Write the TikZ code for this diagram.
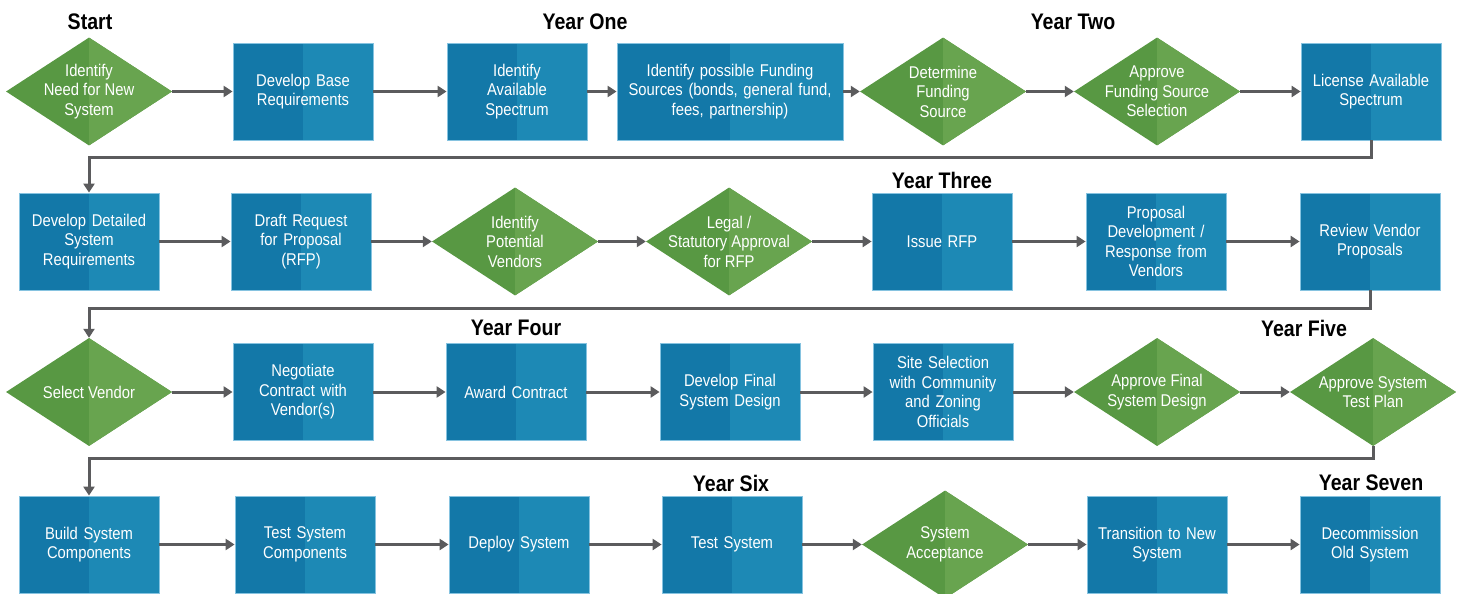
\documentclass[tikz,border=0pt]{standalone}
\usepackage{fontspec}
\setmainfont{Liberation Sans}[FakeStretch=0.87]
\usetikzlibrary{shapes.geometric,arrows.meta}
\definecolor{boxdark}{HTML}{1378A8}
\definecolor{boxlight}{HTML}{1D89B5}
\definecolor{boxedge}{HTML}{86C3E0}
\definecolor{greendark}{HTML}{589843}
\definecolor{greenlight}{HTML}{68A44F}
\definecolor{flowgray}{HTML}{5B5B5D}
\tikzset{
    stepbox/.style={rectangle,draw=boxedge,line width=0.8pt,fill=boxdark,text=white,
        minimum width=140pt,minimum height=97pt,text width=136pt,align=center,inner sep=0pt,
        font=\fontsize{17}{19.5}\selectfont,
        path picture={\fill[boxlight] (path picture bounding box.north) rectangle (path picture bounding box.south east);}},
    widebox/.style={stepbox,minimum width=226pt,text width=222pt},
    decide/.style={diamond,fill=greendark,minimum width=166pt,minimum height=108pt,inner sep=0pt,
        path picture={\fill[greenlight] (path picture bounding box.north) rectangle (path picture bounding box.south east);}},
    dtext/.style={text=white,align=center,font=\fontsize{17}{19.5}\selectfont},
    year/.style={font=\bfseries\fontsize{22.5}{24}\selectfont},
    flow/.style={draw=flowgray,line width=3pt,-{Triangle[length=9pt,width=11pt]}}
}
\begin{document}
\begin{tikzpicture}[x=1pt,y=-1pt]
        \fill[white] (0,0) rectangle (1460,594);
        \useasboundingbox (0,0) rectangle (1460,594);
        \node[year] (ys) at (90,22) {Start};
        \node[year] (y1) at (585,22) {Year One};
        \node[year] (y2) at (1073,22) {Year Two};
        \node[year] (y3) at (942,180) {Year Three};
        \node[year] (y4) at (516,328) {Year Four};
        \node[year] (y5) at (1304,328) {Year Five};
        \node[year] (y6) at (731,483) {Year Six};
        \node[year] (y7) at (1371,483) {Year Seven};
        \node[decide,label={[dtext]center:{Identify\\Need for New\\System}}] (a1) at (89,91.5) {};
        \node[stepbox] (a2) at (303,91.5) {Develop Base\\Requirements};
        \node[stepbox] (a3) at (517,91.5) {Identify\\Available\\Spectrum};
        \node[widebox] (a4) at (730,91.5) {Identify possible Funding\\Sources (bonds, general fund,\\fees, partnership)};
        \node[decide,label={[dtext]center:{Determine\\Funding\\Source}}] (a5) at (943,91.5) {};
        \node[decide,label={[dtext]center:{Approve\\Funding Source\\Selection}}] (a6) at (1157,91.5) {};
        \node[stepbox] (a7) at (1371,91.5) {License Available\\Spectrum};
        \node[stepbox] (b1) at (89,241.5) {Develop Detailed\\System\\Requirements};
        \node[stepbox] (b2) at (301,241.5) {Draft Request\\for Proposal\\(RFP)};
        \node[decide,label={[dtext]center:{Identify\\Potential\\Vendors}}] (b3) at (515,241.5) {};
        \node[decide,label={[dtext]center:{Legal /\\Statutory Approval\\for RFP}}] (b4) at (729,241.5) {};
        \node[stepbox] (b5) at (942,241.5) {Issue RFP};
        \node[stepbox] (b6) at (1156,241.5) {Proposal\\Development /\\Response from\\Vendors};
        \node[stepbox] (b7) at (1370,241.5) {Review Vendor\\Proposals};
        \node[decide,label={[dtext]center:{Select Vendor}}] (c1) at (89,392) {};
        \node[stepbox] (c2) at (303,392) {Negotiate\\Contract with\\Vendor(s)};
        \node[stepbox] (c3) at (516,392) {Award Contract};
        \node[stepbox] (c4) at (730,392) {Develop Final\\System Design};
        \node[stepbox] (c5) at (943,392) {Site Selection\\with Community\\and Zoning\\Officials};
        \node[decide,label={[dtext]center:{Approve Final\\System Design}}] (c6) at (1157,392) {};
        \node[decide,label={[dtext]center:{Approve System\\Test Plan}}] (c7) at (1373,392) {};
        \node[stepbox] (d1) at (89,544.5) {Build System\\Components};
        \node[stepbox] (d2) at (305,544.5) {Test System\\Components};
        \node[stepbox] (d3) at (519,544.5) {Deploy System};
        \node[stepbox] (d4) at (732,544.5) {Test System};
        \node[decide,label={[dtext]center:{System\\Acceptance}}] (d5) at (945,544.5) {};
        \node[stepbox] (d6) at (1157,544.5) {Transition to New\\System};
        \node[stepbox] (d7) at (1370,544.5) {Decommission\\Old System};
        \draw[flow] (a1) -- (a2); \draw[flow] (a2) -- (a3); \draw[flow] (a3) -- (a4);
        \draw[flow] (a4) -- (a5); \draw[flow] (a5) -- (a6); \draw[flow] (a6) -- (a7);
        \draw[flow] (a7.south) -- ++(0,17) -| (b1.north);
        \draw[flow] (b1) -- (b2); \draw[flow] (b2) -- (b3); \draw[flow] (b3) -- (b4);
        \draw[flow] (b4) -- (b5); \draw[flow] (b5) -- (b6); \draw[flow] (b6) -- (b7);
        \draw[flow] (b7.south) -- ++(0,18) -| (c1.north);
        \draw[flow] (c1) -- (c2); \draw[flow] (c2) -- (c3); \draw[flow] (c3) -- (c4);
        \draw[flow] (c4) -- (c5); \draw[flow] (c5) -- (c6); \draw[flow] (c6) -- (c7);
        \draw[flow] (c7.south) -- ++(0,12) -| (d1.north);
        \draw[flow] (d1) -- (d2); \draw[flow] (d2) -- (d3); \draw[flow] (d3) -- (d4);
        \draw[flow] (d4) -- (d5); \draw[flow] (d5) -- (d6); \draw[flow] (d6) -- (d7);
    \end{tikzpicture}
\end{document}
